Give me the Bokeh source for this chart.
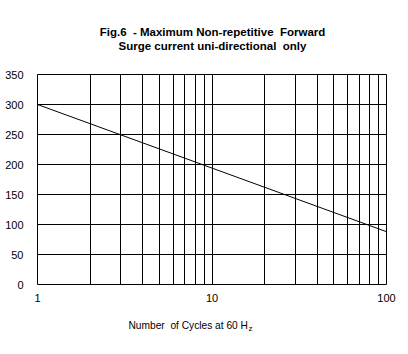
from bokeh.plotting import figure
from bokeh.layouts import column
from bokeh.models import Label, FixedTicker, Range1d, CustomJSTickFormatter
from bokeh.embed import file_html
from bokeh.resources import INLINE

# data
cycles = [1, 100]
current = [300, 88]
x_ticks = [1, 10, 100]
x_minor = [2, 3, 4, 5, 6, 7, 8, 9, 20, 30, 40, 50, 60, 70, 80, 90]
y_ticks = [0, 50, 100, 150, 200, 250, 300, 350]
NB = "\u00a0"
title_lines = ["Fig.6" + NB + " - Maximum Non-repetitive" + NB + " Forward",
               "Surge current uni-directional" + NB + " only"]
xlabel_main = "Number" + NB + " of Cycles at 60 H"
xlabel_sub = "z"

FONT = "Liberation Sans"
W = 408
TOP_H = 60
MAIN_H = 248
BOT_H = 354 - TOP_H - MAIN_H
FRAME_L, FRAME_R = 37, 386  # frames are aligned across the column


def blank(h):
    f = figure(width=W, height=h, x_range=Range1d(FRAME_L, FRAME_R), y_range=Range1d(h, 0),
               output_backend="svg", toolbar_location=None,
               x_axis_location=None, y_axis_location=None,
               min_border=0, min_border_left=0, min_border_right=0,
               min_border_top=0, min_border_bottom=0)
    f.outline_line_color = None
    f.xgrid.visible = False
    f.ygrid.visible = False
    f.background_fill_color = "white"
    f.border_fill_color = "white"
    return f


# title panel (coordinates are canvas pixels, y downward)
top = blank(TOP_H)
for t, yy in zip(title_lines, [31, 45]):
    top.add_layout(Label(x=212, y=yy, text=t, text_align="center", text_baseline="middle",
                         text_font=FONT, text_font_size="11.5px", text_font_style="bold",
                         text_color="black"))

# main chart
p = figure(width=W, height=MAIN_H, x_axis_type="log", output_backend="svg",
           toolbar_location=None, x_range=Range1d(1, 100), y_range=Range1d(0, 350),
           min_border_left=FRAME_L, min_border_right=W - FRAME_R,
           min_border_top=14, min_border_bottom=24)
p.background_fill_color = "white"
p.border_fill_color = "white"
p.outline_line_color = "black"
p.outline_line_width = 1

p.xgrid.ticker = FixedTicker(ticks=x_ticks + x_minor)
p.xgrid.grid_line_color = "black"
p.xgrid.grid_line_width = 1
p.ygrid.ticker = FixedTicker(ticks=y_ticks)
p.ygrid.grid_line_color = "black"
p.ygrid.grid_line_width = 1

p.xaxis.ticker = FixedTicker(ticks=x_ticks)
p.xaxis.formatter = CustomJSTickFormatter(code="return tick.toFixed(0);")
p.yaxis.ticker = FixedTicker(ticks=y_ticks)
for ax in (p.xaxis[0], p.yaxis[0]):
    ax.axis_line_color = None
    ax.major_tick_line_color = None
    ax.minor_tick_line_color = None
    ax.major_label_text_font = FONT
    ax.major_label_text_font_size = "11px"
    ax.major_label_text_color = "black"
p.xaxis.major_label_standoff = 3
p.yaxis.major_label_standoff = 8

p.line(cycles, current, line_color="black", line_width=1)

# x-axis label panel
bot = blank(BOT_H)
bot.add_layout(Label(x=128, y=325 - TOP_H - MAIN_H, text=xlabel_main, text_align="left",
                     text_baseline="middle", text_font=FONT, text_font_size="10.2px",
                     text_color="black"))
bot.add_layout(Label(x=248, y=328 - TOP_H - MAIN_H, text=xlabel_sub, text_align="left",
                     text_baseline="middle", text_font=FONT, text_font_size="8px",
                     text_color="black"))

layout = column(top, p, bot, spacing=0)
open("out.html", "w").write(file_html(layout, INLINE))
